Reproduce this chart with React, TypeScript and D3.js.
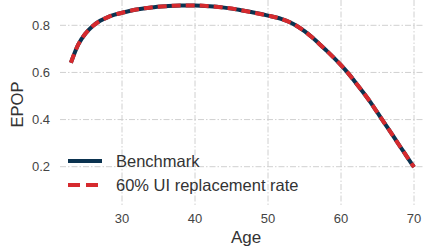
import React, { useRef, useEffect } from "react";
import * as d3 from "d3";

const ages = [23, 24, 25, 26, 27, 28, 29, 30, 32, 34, 36, 38, 40, 42, 44, 46, 48, 50, 51, 52, 53, 54, 55, 56, 57, 58, 59, 60, 61, 62, 63, 64, 65, 66, 67, 68, 69, 70];
const benchmark = [0.641, 0.718, 0.765, 0.797, 0.819, 0.834, 0.845, 0.853, 0.867, 0.876, 0.881, 0.884, 0.884, 0.881, 0.875, 0.866, 0.854, 0.841, 0.834, 0.825, 0.813, 0.796, 0.775, 0.75, 0.722, 0.693, 0.663, 0.631, 0.596, 0.557, 0.517, 0.475, 0.429, 0.383, 0.337, 0.29, 0.244, 0.198];
const replacement60 = [0.641, 0.718, 0.765, 0.797, 0.819, 0.834, 0.845, 0.853, 0.867, 0.876, 0.881, 0.884, 0.884, 0.881, 0.875, 0.866, 0.854, 0.841, 0.834, 0.825, 0.813, 0.796, 0.775, 0.75, 0.722, 0.693, 0.663, 0.631, 0.596, 0.557, 0.517, 0.475, 0.429, 0.383, 0.337, 0.29, 0.244, 0.198];
const xTicks = [30, 40, 50, 60, 70];
const yTicks = [0.2, 0.4, 0.6, 0.8];
const seriesNames = ["Benchmark", "60% UI replacement rate"];

const W = 423, H = 252;

const Chart = () => {
  const svgRef = useRef<SVGSVGElement>(null);

  useEffect(() => {
    const svg = d3.select(svgRef.current);
    svg.selectAll("*").remove();

    const plotLeft = 60, plotBottom = 207;
    const x = d3.scaleLinear().domain([30, 70]).range([122, 414]);
    const y = d3.scaleLinear().domain([0.2, 0.8]).range([166.7, 25.3]);
    const font = "Liberation Sans, Arial, sans-serif";

    // grid
    svg.append("g").selectAll("line")
      .data(yTicks).enter().append("line")
      .attr("x1", plotLeft).attr("x2", W)
      .attr("y1", d => y(d)).attr("y2", d => y(d))
      .attr("stroke", "#d0d0d0").attr("stroke-width", 1)
      .attr("stroke-dasharray", "6,2,1.5,2");
    svg.append("g").selectAll("line")
      .data(xTicks).enter().append("line")
      .attr("x1", d => x(d)).attr("x2", d => x(d))
      .attr("y1", 0).attr("y2", plotBottom)
      .attr("stroke", "#d0d0d0").attr("stroke-width", 1)
      .attr("stroke-dasharray", "6,2,1.5,2");

    // tick labels
    svg.append("g").selectAll("text")
      .data(yTicks).enter().append("text")
      .attr("x", 50).attr("y", d => y(d)).attr("dy", "0.35em")
      .attr("text-anchor", "end").attr("font-family", font).attr("font-size", 13)
      .attr("fill", "#444").text(d => d.toFixed(1));
    svg.append("g").selectAll("text")
      .data(xTicks).enter().append("text")
      .attr("x", d => x(d)).attr("y", 223)
      .attr("text-anchor", "middle").attr("font-family", font).attr("font-size", 13)
      .attr("fill", "#444").text(d => d);

    svg.append("text").attr("x", x(47)).attr("y", 243)
      .attr("text-anchor", "middle").attr("font-family", font).attr("font-size", 17)
      .attr("fill", "#333").text("Age");
    svg.append("text").attr("transform", `translate(23,104.5) rotate(-90)`)
      .attr("text-anchor", "middle").attr("font-family", font).attr("font-size", 16.5)
      .attr("fill", "#333").text("EPOP");

    const line = d3.line<number>().x((_, i) => x(ages[i])).y(d => y(d)).curve(d3.curveMonotoneX);

    svg.append("path").datum(benchmark).attr("d", line)
      .attr("fill", "none").attr("stroke", "#0b3350").attr("stroke-width", 4);
    svg.append("path").datum(replacement60).attr("d", line)
      .attr("fill", "none").attr("stroke", "#d62a2e").attr("stroke-width", 4)
      .attr("stroke-dasharray", "9,5");

    // legend
    const legend = svg.append("g");
    const styles = [
      { color: "#0b3350", dash: null },
      { color: "#d62a2e", dash: "12,6" },
    ];
    seriesNames.forEach((name, i) => {
      const ly = 161 + i * 24;
      legend.append("line").attr("x1", 68).attr("x2", 102).attr("y1", ly).attr("y2", ly)
        .attr("stroke", styles[i].color).attr("stroke-width", 4)
        .attr("stroke-dasharray", styles[i].dash);
      legend.append("text").attr("x", 116).attr("y", ly).attr("dy", "0.35em")
        .attr("font-family", font).attr("font-size", 16.5).attr("fill", "#333").text(name);
    });
  }, []);

  return <svg ref={svgRef} width={W} height={H} style={{ position: "absolute", left: 0, top: 0, background: "#fff" }} />;
};

export default function App() {
  return <Chart />;
}
